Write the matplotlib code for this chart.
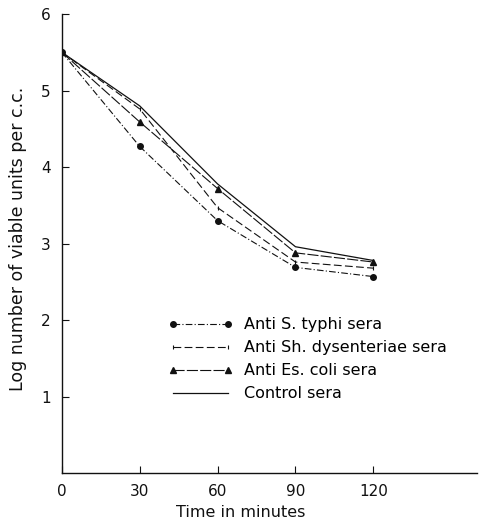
import matplotlib.pyplot as plt

# time points (minutes)
times = [0, 30, 60, 90, 120]

# log number of viable units per c.c.
typhi = [5.50, 4.27, 3.30, 2.69, 2.57]
dysenteriae = [5.50, 4.76, 3.47, 2.76, 2.68]
coli = [5.50, 4.59, 3.72, 2.88, 2.76]
control = [5.50, 4.80, 3.78, 2.96, 2.78]

labels = ["Anti S. typhi sera", "Anti Sh. dysenteriae sera",
          "Anti Es. coli sera", "Control sera"]

x_ticks = [0, 30, 60, 90, 120]
y_ticks = [1, 2, 3, 4, 5, 6]

fig = plt.figure(figsize=(4.83, 5.19), dpi=100)
ax = fig.add_axes([0.128, 0.088, 0.86, 0.885])

ink = "#111111"
ax.plot(times, typhi, color=ink, lw=0.8, ls=(0, (6, 2, 1, 2)),
        marker="o", ms=4, label=labels[0])
ax.plot(times, dysenteriae, color=ink, lw=0.8, ls=(0, (7, 3)),
        marker="|", ms=3, mew=0.8, label=labels[1])
ax.plot(times, coli, color=ink, lw=0.8, ls=(0, (10, 2)),
        marker="^", ms=5, label=labels[2])
ax.plot(times, control, color=ink, lw=0.9, ls="-", label=labels[3])

ax.set_xlim(0, 160)
ax.set_ylim(0, 6)
ax.set_xticks(x_ticks)
ax.set_yticks(y_ticks)
ax.tick_params(direction="in", length=5, width=0.8, labelsize=11, colors=ink)
ax.tick_params(axis="y", pad=8)
ax.tick_params(axis="x", pad=8)

for s in ["top", "right"]:
    ax.spines[s].set_visible(False)
for s in ["left", "bottom"]:
    ax.spines[s].set_linewidth(1.0)
    ax.spines[s].set_color(ink)

ax.set_xlabel("Time in minutes", fontsize=11.5, color=ink)
ax.xaxis.set_label_coords(0.43, -0.068)
ax.set_ylabel("Log number of viable units per c.c.", fontsize=12.5, color=ink)
ax.yaxis.set_label_coords(-0.085, 0.51)

ax.legend(loc="upper left", bbox_to_anchor=(0.257, 0.34), frameon=False,
          fontsize=11.5, handlelength=4.0, labelspacing=0.5,
          handletextpad=0.7, borderpad=0, borderaxespad=0, numpoints=2)

fig.savefig("out.png", dpi=100)
